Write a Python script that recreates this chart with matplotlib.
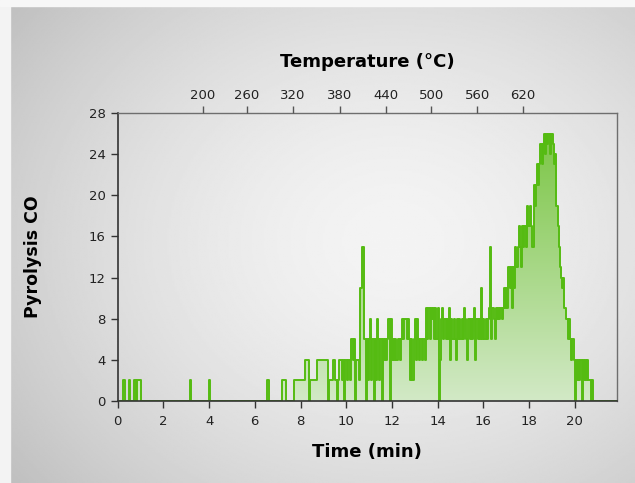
import numpy as np
import matplotlib
matplotlib.use("Agg")
import matplotlib.pyplot as plt
from matplotlib.colors import LinearSegmentedColormap
from matplotlib.patches import PathPatch

# CO signal, one value per 0.05 min (one row per minute, 0 .. 21.95 min)
co_rows = [
    [0, 0, 0, 0, 0, 2, 0, 0, 0, 0, 2, 0, 0, 0, 2, 2, 0, 2, 2, 2],            # 0
    [0] * 20,                                                                 # 1
    [0] * 20,                                                                 # 2
    [0, 0, 0, 2, 0, 0, 0, 0, 0, 0, 0, 0, 0, 0, 0, 0, 0, 0, 0, 0],            # 3
    [2, 0, 0, 0, 0, 0, 0, 0, 0, 0, 0, 0, 0, 0, 0, 0, 0, 0, 0, 0],            # 4
    [0] * 20,                                                                 # 5
    [0, 0, 0, 0, 0, 0, 0, 0, 0, 0, 0, 2, 0, 0, 0, 0, 0, 0, 0, 0],            # 6
    [0, 0, 0, 0, 2, 2, 2, 0, 0, 0, 0, 0, 0, 0, 2, 2, 2, 2, 2, 2],            # 7
    [2, 2, 2, 2, 4, 4, 4, 0, 2, 2, 2, 2, 2, 2, 4, 4, 4, 4, 4, 4],            # 8
    [4, 4, 4, 4, 0, 2, 2, 2, 4, 4, 2, 2, 0, 2, 4, 4, 2, 4, 0, 4],            # 9
    [4, 2, 4, 2, 6, 6, 4, 6, 0, 4, 4, 2, 11, 11, 15, 15, 6, 0, 6, 2],        # 10
    [6, 8, 2, 6, 0, 6, 2, 8, 6, 2, 6, 0, 6, 4, 6, 4, 6, 8, 0, 8],            # 11
    [4, 6, 4, 6, 4, 6, 6, 4, 6, 8, 6, 8, 8, 6, 8, 6, 2, 6, 2, 6],            # 12
    [8, 4, 8, 6, 4, 6, 4, 6, 6, 4, 9, 6, 9, 6, 9, 8, 9, 6, 9, 6],            # 13
    [9, 0, 4, 8, 9, 6, 8, 6, 8, 6, 9, 4, 8, 6, 8, 6, 4, 8, 6, 8],            # 14
    [6, 8, 6, 9, 8, 6, 4, 8, 6, 8, 6, 8, 9, 4, 8, 6, 8, 6, 11, 6],           # 15
    [8, 6, 8, 6, 8, 9, 15, 6, 9, 8, 6, 9, 8, 9, 8, 9, 8, 9, 11, 9],          # 16
    [11, 9, 13, 11, 13, 9, 13, 11, 15, 13, 15, 17, 15, 13, 17, 15, 17, 15, 19, 17],  # 17
    [17, 19, 17, 15, 21, 19, 21, 23, 21, 23, 25, 23, 25, 26, 24, 26, 25, 26, 24, 26],  # 18
    [26, 25, 23, 24, 19, 17, 15, 13, 12, 11, 12, 9, 8, 8, 6, 8, 6, 4, 6, 4],  # 19
    [0, 4, 2, 4, 2, 4, 0, 4, 2, 4, 2, 4, 2, 2, 0, 2, 0, 0, 0, 0],            # 20
    [0] * 20,                                                                 # 21
]
sample_step = 0.05  # min

time_ticks = [0, 2, 4, 6, 8, 10, 12, 14, 16, 18, 20]
co_ticks = [0, 4, 8, 12, 16, 20, 24, 28]
# temperature axis: tick labels and where they sit on the time axis
temp_labels = ["200", "260", "320", "380", "440", "500", "560", "620"]
temp_tick_times = [3.73, 5.66, 7.67, 9.72, 11.74, 13.73, 15.73, 17.73]

co = np.array(co_rows, dtype=float).ravel()
t = np.arange(len(co) + 1) * sample_step
v = np.append(co, co[-1])

fig = plt.figure(figsize=(6.35, 4.83), dpi=100)

# grey panel background with a soft highlight
bg = fig.add_axes([0, 0, 1, 1], zorder=-10)
yy, xx = np.mgrid[0:1:300j, 0:1:400j]
r = np.sqrt(((xx - 0.62) / 0.75) ** 2 + ((yy - 0.5) / 0.8) ** 2)
shade = np.clip(0.955 - 0.2 * r ** 1.6, 0.74, 0.96)
bg.imshow(shade, cmap="gray", vmin=0, vmax=1, extent=[0, 1, 0, 1],
          aspect="auto", origin="lower")
bg.axvspan(0, 10 / 635, color="#f3f3f3")
bg.axhspan(1 - 6 / 483, 1, color="#f7f7f7")
bg.set_xlim(0, 1)
bg.set_ylim(0, 1)
bg.axis("off")

ax = fig.add_axes([117.7 / 635, 82 / 483, (617 - 117.7) / 635, 288 / 483])
ax.set_facecolor("none")
ax.set_xlim(0, 21.85)
ax.set_ylim(0, 28)

# gradient fill under the curve
fb = ax.fill_between(t, v, step="post", color="none", lw=0)
clip = PathPatch(fb.get_paths()[0], transform=ax.transData,
                 facecolor="none", edgecolor="none")
ax.add_patch(clip)
fill_cmap = LinearSegmentedColormap.from_list("g", ["#d2e9c6", "#7cc646"])
grad = np.linspace(0, 1, 256).reshape(-1, 1)
im = ax.imshow(grad, cmap=fill_cmap, extent=[0, 21.85, 0, 26], origin="lower",
               aspect="auto", zorder=1)
im.set_clip_path(clip)

ax.step(t, v, where="post", color="#55bb12", lw=1.4, zorder=2)

ax.set_xticks(time_ticks)
ax.set_yticks(co_ticks)
ax.tick_params(axis="both", direction="out", length=5, width=1,
               color="#333333", labelsize=9.5, labelcolor="#222222")
ax.tick_params(axis="x", pad=5)
for side in ["left", "bottom"]:
    ax.spines[side].set_color("#333333")
    ax.spines[side].set_linewidth(1.2)
for side in ["top", "right"]:
    ax.spines[side].set_color("#6e6e6e")
    ax.spines[side].set_linewidth(1.0)

ax.set_xlabel("Time (min)", fontsize=13, fontweight="bold", labelpad=11)
ax.set_ylabel("Pyrolysis CO", fontsize=12.5, fontweight="bold", labelpad=34)

ax2 = ax.twiny()
ax2.set_xlim(ax.get_xlim())
ax2.set_xticks(temp_tick_times)
ax2.set_xticklabels(temp_labels)
ax2.tick_params(axis="x", direction="out", length=5, width=1,
                color="#555555", labelsize=9.5, labelcolor="#222222", pad=3)
for side in ["left", "bottom", "top", "right"]:
    ax2.spines[side].set_visible(False)
ax2.set_xlabel("Temperature (°C)", fontsize=13, fontweight="bold", labelpad=16)

fig.savefig("out.png", dpi=100)
